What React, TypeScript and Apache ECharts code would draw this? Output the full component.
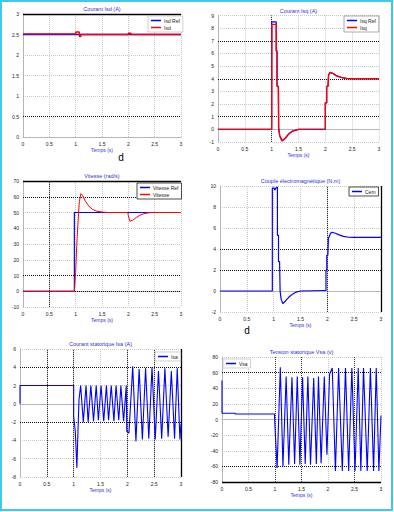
import React, { useEffect, useRef } from "react";
import * as echarts from "echarts";

// ---------- data ----------
const X_TICKS = [0, 0.5, 1, 1.5, 2, 2.5, 3];

const isdRef: [number, number][] = [[0, 2.5], [3, 2.5]];
const isd: [number, number][] = [
  [0, 2.515], [1, 2.515], [1, 2.56], [1.07, 2.56], [1.07, 2.45], [1.1, 2.45], [1.1, 2.5],
  [2, 2.5], [2, 2.53], [2.05, 2.53], [2.05, 2.5], [3, 2.5],
];

const isqRef: [number, number][] = [
  [0, 0], [1, 0], [1, 8.5], [1.085, 8.5], [1.085, 6.2], [1.1, 6.2], [1.1, 3.4], [1.125, 3.4],
  [1.13, 0.1], [1.15, -0.5], [1.2, -0.9], [1.25, -0.72], [1.3, -0.45], [1.35, -0.25], [1.4, -0.12],
  [1.5, 0], [2, 0], [2, 2.1], [2.025, 2.1], [2.025, 3.4], [2.05, 3.4], [2.06, 4.3], [2.09, 4.5],
  [2.15, 4.4], [2.2, 4.25], [2.3, 4.1], [2.4, 4.02], [2.5, 4], [3, 4],
];
const isq: [number, number][] = [
  [0, 0], [1, 0], [1.005, 8.3], [1.085, 8.3], [1.085, 6.2], [1.1, 6.2], [1.1, 3.4], [1.125, 3.4],
  [1.13, 0.1], [1.15, -0.5], [1.19, -0.92], [1.25, -0.72], [1.3, -0.45], [1.35, -0.25], [1.4, -0.12],
  [1.5, 0], [2, 0.02], [2, 2.1], [2.025, 2.1], [2.025, 3.4], [2.05, 3.4], [2.06, 4.3], [2.09, 4.5],
  [2.15, 4.4], [2.2, 4.25], [2.3, 4.1], [2.4, 4.02], [2.5, 4], [3, 4],
];

const vitRef: [number, number][] = [[0, 0], [0.975, 0], [0.975, 50], [3, 50]];
const vit: [number, number][] = [
  [0, 0], [0.975, 0], [0.985, 5], [1.0, 12], [1.02, 29], [1.045, 44], [1.07, 57], [1.1, 62],
  [1.13, 61], [1.18, 57.5], [1.25, 54], [1.32, 52], [1.4, 50.8], [1.5, 50.3], [1.6, 50],
  [1.99, 50], [2.0, 48], [2.03, 44.5], [2.08, 45], [2.15, 46.8], [2.22, 48.3], [2.3, 49.3],
  [2.4, 49.9], [2.5, 50], [3, 50],
];

const cem: [number, number][] = [
  [0, 0], [0.975, 0], [0.975, 9.8], [1.01, 9.8], [1.02, 9.6], [1.04, 9.8], [1.07, 9.9],
  [1.07, 5.3], [1.09, 5.3], [1.09, 2.8], [1.11, 2.8], [1.12, 0], [1.14, -0.8], [1.17, -1.2],
  [1.22, -0.95], [1.28, -0.6], [1.35, -0.3], [1.42, -0.1], [1.5, 0], [1.96, 0.05],
  [1.975, 0.05], [1.975, 2.0], [1.99, 2.0], [1.99, 3.4], [2.01, 3.4], [2.02, 5.0],
  [2.06, 5.5], [2.09, 5.6], [2.15, 5.5], [2.22, 5.35], [2.3, 5.2], [2.4, 5.12], [2.5, 5.1], [3, 5.1],
];

const isa: [number, number][] = [
  [0, 0], [0, 2], [1.0, 2], [1.0, -1.4], [1.03, -3], [1.06, -7], [1.08, -3], [1.1, 0.5],
  [1.13, 2], [1.18, -2], [1.23, 2], [1.27, -2], [1.32, 2], [1.37, -1.9], [1.42, 2],
  [1.46, -1.8], [1.51, 2], [1.56, -1.9], [1.61, 2], [1.65, -1.8], [1.7, 2], [1.75, -1.9],
  [1.79, 2], [1.84, -1.8], [1.88, 2], [1.93, -1.9], [1.98, 2], [1.99, -3], [2.03, -3.2],
  [2.1, 4.1], [2.16, -4.1], [2.22, 3.8], [2.28, -3.9], [2.34, 3.9], [2.4, -3.8], [2.46, 4.0],
  [2.52, -3.9], [2.58, 3.6], [2.64, -3.8], [2.7, 3.9], [2.76, -3.6], [2.82, 3.6], [2.88, -3.8],
  [2.93, 3.9], [2.98, -3.9], [3, -2.2],
];

const vsa: [number, number][] = [
  [0, 50], [0, 8], [0.25, 8], [0.25, 7], [0.99, 7], [1.0, -10], [1.04, -62], [1.1, 67],
  [1.15, -60], [1.21, 55], [1.26, -58], [1.32, 54], [1.37, -57], [1.42, 55], [1.47, -58],
  [1.52, 54], [1.57, -57], [1.62, 55], [1.67, -58], [1.73, 53], [1.78, -57], [1.82, 55],
  [1.87, -56], [1.93, 55], [1.98, -45], [2.03, 58], [2.08, 66], [2.14, -66], [2.2, 66],
  [2.27, -66], [2.33, 66], [2.39, -66], [2.45, 66], [2.51, -66], [2.57, 66], [2.62, -66],
  [2.67, 66], [2.74, -66], [2.8, 66], [2.86, -66], [2.91, 66], [2.96, -66], [3, 5],
];

// ---------- layout ----------
const FONT = "Liberation Sans";
const BLUE = "#0000ff";
const RED = "#ff0000";
const LIGHT = "#c8c8c8";

type Panel = {
  title: string;
  grid: { left: number; top: number; width: number; height: number };
  y: { min: number; max: number; interval: number };
  series: { name: string; data: [number, number][]; color: string; width: number }[];
  legend: { left: number; top: number; border: string };
  darkY: number[];
  darkX: number[];
  solidY: number[];
  solidX: number[];
};

const panels: Panel[] = [
  {
    title: "Courant Isd (A)",
    grid: { left: 23, top: 14, width: 158, height: 123 },
    y: { min: 0, max: 3, interval: 0.5 },
    series: [
      { name: "Isd Ref", data: isdRef, color: BLUE, width: 1.3 },
      { name: "Isd", data: isd, color: RED, width: 1.4 },
    ],
    legend: { left: 148, top: 16, border: "#bbb" },
    darkY: [0.5], darkX: [], solidY: [3], solidX: [],
  },
  {
    title: "Courant Isq (A)",
    grid: { left: 218, top: 15.5, width: 161, height: 126.5 },
    y: { min: -1, max: 9, interval: 1 },
    series: [
      { name: "Isq Ref", data: isqRef, color: BLUE, width: 1.2 },
      { name: "Isq", data: isq, color: RED, width: 1.4 },
    ],
    legend: { left: 344, top: 16, border: "#888" },
    darkY: [7, 4, 1], darkX: [1], solidY: [], solidX: [],
  },
  {
    title: "Vitesse (rad/s)",
    grid: { left: 23, top: 181, width: 158, height: 126 },
    y: { min: -10, max: 70, interval: 10 },
    series: [
      { name: "Vitesse Ref", data: vitRef, color: BLUE, width: 1.2 },
      { name: "Vitesse", data: vit, color: RED, width: 1 },
    ],
    legend: { left: 137, top: 183, border: "#000" },
    darkY: [60, 10, 0], darkX: [0.5], solidY: [70], solidX: [],
  },
  {
    title: "Couple électromagnétique (N.m)",
    grid: { left: 220, top: 186, width: 161, height: 126 },
    y: { min: -2, max: 10, interval: 2 },
    series: [{ name: "Cem", data: cem, color: BLUE, width: 1.2 }],
    legend: { left: 349, top: 187, border: "#000" },
    darkY: [4, 2], darkX: [2], solidY: [], solidX: [3],
  },
  {
    title: "Courant statorique Isa (A)",
    grid: { left: 20, top: 349, width: 161, height: 128 },
    y: { min: -8, max: 6, interval: 2 },
    series: [{ name: "Isa", data: isa, color: BLUE, width: 1.1 }],
    legend: { left: 155, top: 352, border: "#bbb" },
    darkY: [4, -2], darkX: [0.5, 1, 2, 2.5], solidY: [], solidX: [3],
  },
  {
    title: "Tension statorique Vsa (v)",
    grid: { left: 222, top: 357, width: 159, height: 125 },
    y: { min: -80, max: 80, interval: 20 },
    series: [{ name: "Vsa", data: vsa, color: BLUE, width: 1.1 }],
    legend: { left: 223, top: 359, border: "#bbb" },
    darkY: [60, -60], darkX: [1, 1.5, 2.5], solidY: [-80], solidX: [],
  },
];

function buildOption() {
  const grid: any[] = [];
  const xAxis: any[] = [];
  const yAxis: any[] = [];
  const series: any[] = [];
  const legend: any[] = [];
  const graphic: any[] = [];

  panels.forEach((p, i) => {
    grid.push({ ...p.grid, containLabel: false, backgroundColor: "#fff", show: false });
    xAxis.push({
      type: "value",
      gridIndex: i,
      min: X_TICKS[0],
      max: X_TICKS[X_TICKS.length - 1],
      interval: 0.5,
      name: "Temps (s)",
      nameLocation: "middle",
      nameGap: 10,
      nameTextStyle: { color: "#2f2fd8", fontSize: 5, fontFamily: FONT },
      axisLine: { show: true, lineStyle: { color: "#aaa", width: 0.8 } },
      axisTick: { show: false },
      axisLabel: {
        fontSize: 5,
        color: "#222",
        margin: 4,
        fontFamily: FONT,
        formatter: (v: number) => String(v),
      },
      splitLine: { show: true, lineStyle: { color: LIGHT, type: "dotted", width: 1 } },
    });
    yAxis.push({
      type: "value",
      gridIndex: i,
      min: p.y.min,
      max: p.y.max,
      interval: p.y.interval,
      axisLine: { show: true, lineStyle: { color: "#aaa", width: 0.8 } },
      axisTick: { show: false },
      axisLabel: { fontSize: 5, color: "#222", margin: 4, fontFamily: FONT },
      splitLine: { show: true, lineStyle: { color: LIGHT, type: "dotted", width: 1 } },
    });

    const markData: any[] = [];
    p.darkY.forEach((v) =>
      markData.push({ yAxis: v, lineStyle: { type: "dotted", color: "#111", width: 1 } })
    );
    p.darkX.forEach((v) =>
      markData.push({ xAxis: v, lineStyle: { type: "dotted", color: "#333", width: 1 } })
    );
    p.solidY.forEach((v) =>
      markData.push({ yAxis: v, lineStyle: { type: "solid", color: "#000", width: 1.3 } })
    );
    p.solidX.forEach((v) =>
      markData.push({ xAxis: v, lineStyle: { type: "solid", color: "#000", width: 1.3 } })
    );

    // background marks on a dummy-free way: attach to first series but drawn below via z
    p.series.forEach((s, k) => {
      series.push({
        type: "line",
        name: s.name,
        xAxisIndex: i,
        yAxisIndex: i,
        data: s.data,
        showSymbol: false,
        symbol: "none",
        z: 3 + k,
        lineStyle: { color: s.color, width: s.width },
        itemStyle: { color: s.color },
        markLine:
          k === 0
            ? {
                silent: true,
                symbol: "none",
                label: { show: false },
                z: 1,
                data: markData,
              }
            : undefined,
      });
    });

    legend.push({
      data: p.series.map((s) => s.name),
      left: p.legend.left,
      top: p.legend.top,
      orient: "vertical",
      itemGap: 2,
      itemWidth: 10,
      itemHeight: 1.5,
      icon: "rect",
      padding: [2, 3, 2, 3],
      backgroundColor: "#fff",
      borderColor: p.legend.border,
      borderWidth: 0.7,
      borderRadius: 0,
      selectedMode: false,
      textStyle: { fontSize: 5, color: "#222", fontFamily: FONT, padding: [0, 0, 0, -2] },
    });

    graphic.push({
      type: "text",
      x: p.grid.left + p.grid.width / 2,
      y: p.grid.top - 5,
      silent: true,
      style: {
        text: p.title,
        align: "center",
        verticalAlign: "middle",
        fontSize: 5.5,
        fontFamily: FONT,
        fill: "#2f2fd8",
      },
    });
  });

  graphic.push(
    {
      type: "text",
      x: 121,
      y: 157,
      silent: true,
      style: { text: "d", align: "center", verticalAlign: "middle", fontSize: 10, fontFamily: FONT, fill: "#000" },
    },
    {
      type: "text",
      x: 247,
      y: 330,
      silent: true,
      style: { text: "d", align: "center", verticalAlign: "middle", fontSize: 10, fontFamily: FONT, fill: "#000" },
    },
    {
      type: "rect",
      silent: true,
      shape: { x: 1, y: 1, width: 391, height: 509 },
      style: { fill: "none", stroke: "#3ec9f2", lineWidth: 2 },
      z: 100,
    }
  );

  return {
    animation: false,
    backgroundColor: "#fff",
    grid,
    xAxis,
    yAxis,
    series,
    legend,
    graphic,
  };
}

export default function App() {
  const ref = useRef<HTMLDivElement>(null);
  useEffect(() => {
    if (!ref.current) return;
    const chart = echarts.init(ref.current, undefined, { renderer: "svg" });
    chart.setOption(buildOption() as any);
    return () => chart.dispose();
  }, []);
  return (
    <div
      ref={ref}
      style={{ position: "fixed", left: 0, top: 0, width: 394, height: 512, background: "#fff" }}
    />
  );
}
